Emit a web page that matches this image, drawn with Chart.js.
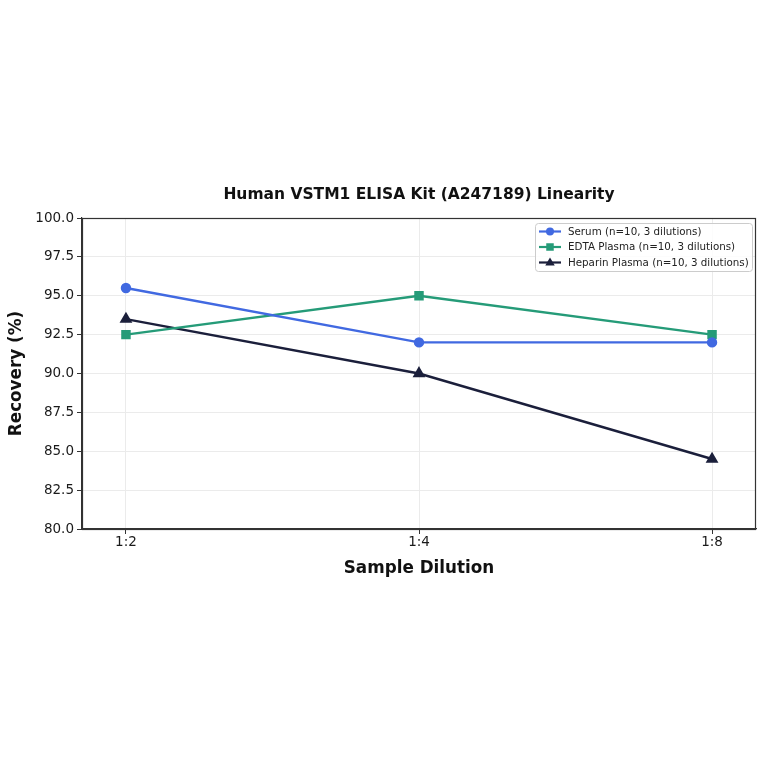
<!DOCTYPE html>
<html>
<head>
<meta charset="utf-8">
<script src="https://cdn.jsdelivr.net/npm/chart.js@4.4.0/dist/chart.umd.min.js"></script>
<style>
  html, body { margin: 0; padding: 0; background: #fff; }
  canvas { display: block; }
</style>
</head>
<body>
<canvas id="linearityChart" width="764" height="764"></canvas>
<script>
// data
const dilutions = ["1:2", "1:4", "1:8"];
const serumRecovery = [95.5, 92.0, 92.0];
const edtaRecovery = [92.5, 95.0, 92.5];
const heparinRecovery = [93.5, 90.0, 84.5];
const seriesNames = [
  "Serum (n=10, 3 dilutions)",
  "EDTA Plasma (n=10, 3 dilutions)",
  "Heparin Plasma (n=10, 3 dilutions)"
];
const yTicks = [80, 82.5, 85, 87.5, 90, 92.5, 95, 97.5, 100];
const chartTitle = "Human VSTM1 ELISA Kit (A247189) Linearity";

const FONT = "'DejaVu Sans', Arial, sans-serif";

function toPoints(arr) {
  return arr.map((v, i) => ({ x: i, y: v }));
}

// matplotlib style box around the plot, title over the axes, legend inside upper right
const frameAndLegend = {
  id: "frameAndLegend",
  afterDatasetsDraw(chart) {
    const ctx = chart.ctx;
    const a = chart.chartArea;
    ctx.save();
    ctx.strokeStyle = "#333";
    ctx.lineWidth = 1.2;
    ctx.strokeRect(a.left + 0.5, a.top + 0.5, a.right - a.left - 1, a.bottom - a.top);

    // title, centred over the axes
    ctx.fillStyle = "#111";
    ctx.font = "bold 15.5px " + FONT;
    ctx.textAlign = "center";
    ctx.textBaseline = "middle";
    ctx.fillText(chartTitle, (a.left + a.right) / 2, a.top - 23);

    // legend box
    const bx = a.right - 221, by = a.top + 5, bw = 217, bh = 48;
    ctx.fillStyle = "rgba(255,255,255,0.85)";
    ctx.strokeStyle = "#cccccc";
    ctx.lineWidth = 1;
    ctx.beginPath();
    ctx.roundRect(bx + 0.5, by + 0.5, bw, bh, 3);
    ctx.fill();
    ctx.stroke();

    ctx.font = "10.3px " + FONT;
    ctx.textAlign = "left";
    chart.data.datasets.forEach((ds, i) => {
      const y = by + 8.5 + i * 15.5;
      ctx.strokeStyle = ds.borderColor;
      ctx.lineWidth = 2.2;
      ctx.beginPath();
      ctx.moveTo(bx + 4, y);
      ctx.lineTo(bx + 26, y);
      ctx.stroke();
      ctx.fillStyle = ds.borderColor;
      drawMarker(ctx, ds.pointStyle, bx + 15, y, ds.pointRadius);
      ctx.fillStyle = "#222";
      ctx.fillText(seriesNames[i], bx + 33, y + 0.5);
    });
    ctx.restore();
  }
};

function drawMarker(ctx, style, x, y, r) {
  ctx.beginPath();
  if (style === "circle") {
    ctx.arc(x, y, r, 0, Math.PI * 2);
  } else if (style === "rect") {
    const s = r * 0.75;
    ctx.rect(x - s, y - s, s * 2, s * 2);
  } else {
    ctx.moveTo(x, y - r);
    ctx.lineTo(x + r * 0.95, y + r * 0.6);
    ctx.lineTo(x - r * 0.95, y + r * 0.6);
    ctx.closePath();
  }
  ctx.fill();
}

const ctx = document.getElementById("linearityChart").getContext("2d");

new Chart(ctx, {
  type: "line",
  data: {
    datasets: [
      {
        label: seriesNames[0],
        data: toPoints(serumRecovery),
        borderColor: "#4169e1",
        backgroundColor: "#4169e1",
        pointStyle: "circle",
        pointRadius: 4,
        borderWidth: 2.4
      },
      {
        label: seriesNames[1],
        data: toPoints(edtaRecovery),
        borderColor: "#259b78",
        backgroundColor: "#259b78",
        pointStyle: "rect",
        pointRadius: 5,
        borderWidth: 2.4
      },
      {
        label: seriesNames[2],
        data: toPoints(heparinRecovery),
        borderColor: "#1b1f3b",
        backgroundColor: "#1b1f3b",
        pointStyle: "triangle",
        pointRadius: 5,
        borderWidth: 2.4
      }
    ]
  },
  options: {
    responsive: false,
    animation: false,
    devicePixelRatio: 1,
    layout: { padding: { top: 218, right: 8, bottom: 181, left: 0 } },
    plugins: {
      legend: { display: false },
      tooltip: { enabled: false },
      title: { display: false }
    },
    scales: {
      x: {
        type: "linear",
        min: -0.15,
        max: 2.15,
        afterBuildTicks: (scale) => {
          scale.ticks = dilutions.map((d, i) => ({ value: i }));
        },
        afterFit: (scale) => { scale.height = 54; },
        ticks: {
          callback: (v) => dilutions[v],
          color: "#1a1a1a",
          font: { family: FONT, size: 13.5 },
          padding: 0,
          maxRotation: 0
        },
        grid: { color: "#ebebeb", tickColor: "#333", tickLength: 5 },
        border: { color: "#333", width: 1.2 },
        title: {
          display: true,
          text: "Sample Dilution",
          color: "#111",
          font: { family: FONT, size: 16.8, weight: "bold" },
          padding: { top: 2 }
        }
      },
      y: {
        min: 80,
        max: 100,
        afterBuildTicks: (scale) => {
          scale.ticks = yTicks.map((v) => ({ value: v }));
        },
        afterFit: (scale) => { scale.width = 82; },
        ticks: {
          callback: (v) => v.toFixed(1),
          color: "#1a1a1a",
          font: { family: FONT, size: 13.5 },
          padding: 3
        },
        grid: { color: "#ebebeb", tickColor: "#333", tickLength: 5 },
        border: { color: "#333", width: 1.2 },
        title: {
          display: true,
          text: "Recovery (%)",
          color: "#111",
          font: { family: FONT, size: 16.8, weight: "bold" },
          padding: { top: 7, bottom: 0 }
        }
      }
    }
  },
  plugins: [frameAndLegend]
});
</script>
</body>
</html>
